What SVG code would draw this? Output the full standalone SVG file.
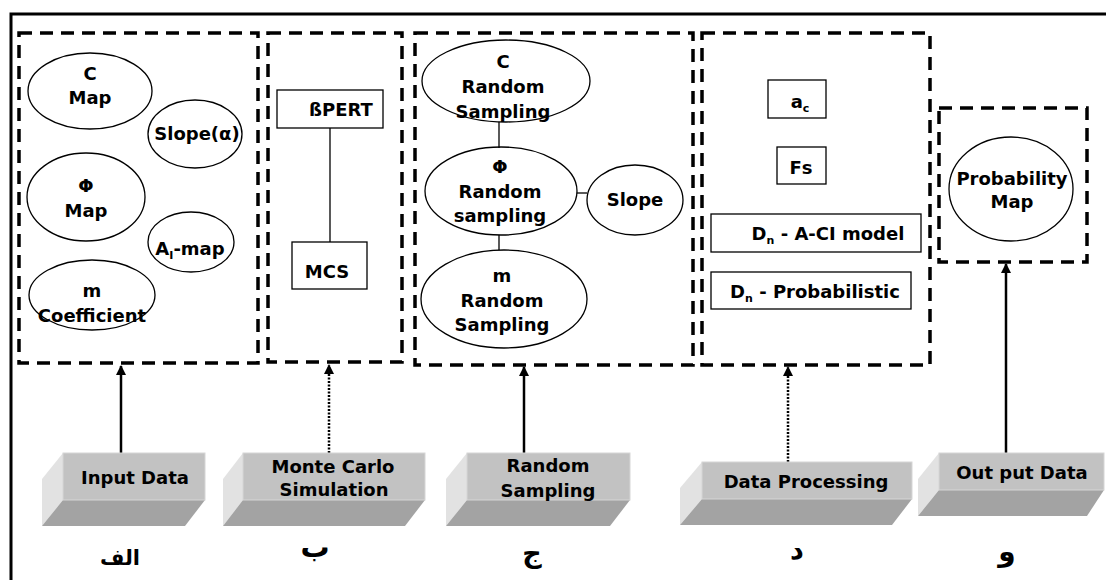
<svg xmlns="http://www.w3.org/2000/svg" width="1106" height="580" viewBox="0 0 1106 580">
<style>
text{font-family:"DejaVu Sans","Liberation Sans",sans-serif;font-weight:bold;font-size:18px;fill:#000;text-anchor:middle}
.dash{fill:none;stroke:#000;stroke-width:3.5;stroke-dasharray:13 8}
.sh{fill:#fff;stroke:#000;stroke-width:1.3}
.ln{stroke:#000;stroke-width:1.3;fill:none}
.ar{stroke:#000;stroke-width:2.5;fill:none}
.dot{stroke:#000;stroke-width:2.5;stroke-dasharray:2 1.5;fill:none}
.front{fill:#c2c2c2;stroke:#d6d6d6;stroke-width:1}
.side{fill:#e2e2e2}
.bot{fill:#a3a3a3}
.sub{font-size:11px}
</style>
<defs>
<marker id="ah" viewBox="0 0 10 10" refX="9" refY="5" markerWidth="4" markerHeight="4" orient="auto" markerUnits="strokeWidth">
<path d="M0,0 L10,5 L0,10 z" fill="#000"/>
</marker>
</defs>
<rect width="1106" height="580" fill="#fff"/>
<path d="M11,582 V14 H1108" fill="none" stroke="#000" stroke-width="3"/>

<g id="group-input">
<rect class="dash" x="19" y="33" width="239" height="330"/>
<g id="n-cmap"><ellipse class="sh" cx="90" cy="91" rx="62" ry="38"/><text x="90" y="80">C</text><text x="90" y="104">Map</text></g>
<g id="n-slope-a"><ellipse class="sh" cx="195" cy="134" rx="47" ry="34"/><text x="197" y="140">Slope(α)</text></g>
<g id="n-phimap"><ellipse class="sh" cx="86" cy="197" rx="59" ry="44"/><text x="86" y="192">Φ</text><text x="86" y="217">Map</text></g>
<g id="n-aimap"><ellipse class="sh" cx="191" cy="242" rx="43" ry="30"/><text x="190" y="255">A<tspan class="sub" dy="4">I</tspan><tspan dy="-4">-map</tspan></text></g>
<g id="n-mcoef"><ellipse class="sh" cx="92" cy="295" rx="63" ry="35"/><text x="92" y="297">m</text><text x="92" y="322">Coefficient</text></g>
</g>

<g id="group-mcs">
<rect class="dash" x="268" y="33" width="134" height="329"/>
<g id="n-bpert"><rect class="sh" x="277" y="90" width="106" height="38"/><text x="341" y="116">ßPERT</text></g>
<g id="n-mcs"><rect class="sh" x="292" y="242" width="75" height="47"/><text x="327" y="278">MCS</text></g>
</g>

<g id="group-random">
<rect class="dash" x="415" y="33" width="278" height="332"/>
<g id="n-crs"><ellipse class="sh" cx="506" cy="81" rx="84" ry="41"/><text x="503" y="68">C</text><text x="503" y="93">Random</text><text x="503" y="118">Sampling</text></g>
<g id="n-phirs"><ellipse class="sh" cx="501" cy="191" rx="76" ry="44"/><text x="500" y="173">Φ</text><text x="500" y="198">Random</text><text x="500" y="222">sampling</text></g>
<g id="n-slope"><ellipse class="sh" cx="635" cy="200" rx="48" ry="35"/><text x="635" y="206">Slope</text></g>
<g id="n-mrs"><ellipse class="sh" cx="504" cy="299" rx="83" ry="49"/><text x="502" y="282">m</text><text x="502" y="307">Random</text><text x="502" y="331">Sampling</text></g>
</g>

<g id="group-processing">
<rect class="dash" x="702" y="33" width="228" height="332"/>
<g id="n-ac"><rect class="sh" x="768" y="80" width="58" height="38"/><text x="800" y="108">a<tspan class="sub" dy="4">c</tspan></text></g>
<g id="n-fs"><rect class="sh" x="777" y="147" width="49" height="37"/><text x="801" y="174">Fs</text></g>
<g id="n-dn-aci"><rect class="sh" x="711" y="214" width="210" height="38"/><text x="828" y="240">D<tspan class="sub" dy="4">n</tspan><tspan dy="-4"> - A-CI  model</tspan></text></g>
<g id="n-dn-prob"><rect class="sh" x="711" y="272" width="200" height="37"/><text x="815" y="298">D<tspan class="sub" dy="4">n</tspan><tspan dy="-4"> - Probabilistic</tspan></text></g>
</g>

<g id="group-output">
<rect class="dash" x="939" y="108" width="148" height="154"/>
<g id="n-probmap"><ellipse class="sh" cx="1011" cy="189" rx="62" ry="52"/><text x="1012" y="185">Probability</text><text x="1012" y="208">Map</text></g>
</g>

<g id="connectors">
<line class="ln" x1="330" y1="128" x2="330" y2="242"/>
<line class="ln" x1="499" y1="122" x2="499" y2="148"/>
<line class="ln" x1="499" y1="235" x2="499" y2="250"/>
<line class="ln" x1="577" y1="193" x2="587" y2="193"/>
<line class="ar" x1="121" y1="453" x2="121" y2="366" marker-end="url(#ah)"/>
<line class="dot" x1="329" y1="453" x2="329" y2="365" marker-end="url(#ah)"/>
<line class="ar" x1="524" y1="453" x2="524" y2="367" marker-end="url(#ah)"/>
<line class="dot" x1="788" y1="462" x2="788" y2="367" marker-end="url(#ah)"/>
<line class="ar" x1="1006" y1="453" x2="1006" y2="264" marker-end="url(#ah)"/>
</g>

<g id="b-input">
<polygon class="side" points="63,453 42,479 42,526 63,500"/>
<polygon class="bot" points="63,500 205,500 185,526 42,526"/>
<rect class="front" x="63" y="453" width="142" height="47"/>
<text x="135" y="484">Input Data</text>
</g>
<g id="b-mcs">
<polygon class="side" points="243,453 223,479 223,526 243,500"/>
<polygon class="bot" points="243,500 425,500 405,526 223,526"/>
<rect class="front" x="243" y="453" width="182" height="47"/>
<text x="333" y="473">Monte Carlo</text><text x="334" y="496">Simulation</text>
</g>
<g id="b-random">
<polygon class="side" points="467,453 446,479 446,526 467,500"/>
<polygon class="bot" points="467,500 630,500 610,526 446,526"/>
<rect class="front" x="467" y="453" width="163" height="47"/>
<text x="548" y="472">Random</text><text x="548" y="497">Sampling</text>
</g>
<g id="b-proc">
<polygon class="side" points="702,462 680,488 680,525 702,499"/>
<polygon class="bot" points="702,499 912,499 892,525 680,525"/>
<rect class="front" x="702" y="462" width="210" height="37"/>
<text x="806" y="488">Data Processing</text>
</g>
<g id="b-out">
<polygon class="side" points="939,453 918,479 918,516 939,490"/>
<polygon class="bot" points="939,490 1104,490 1087,516 918,516"/>
<rect class="front" x="939" y="453" width="165" height="37"/>
<text x="1022" y="479">Out put Data</text>
</g>

<g id="labels">
<text x="120" y="565" style="font-size:21px">الف</text>
<text x="315" y="557" style="font-size:29px">ب</text>
<text x="532" y="562" style="font-size:27px">ج</text>
<text x="797" y="559" style="font-size:27px">د</text>
<text x="1007" y="561" style="font-size:28px">و</text>
</g>
</svg>
